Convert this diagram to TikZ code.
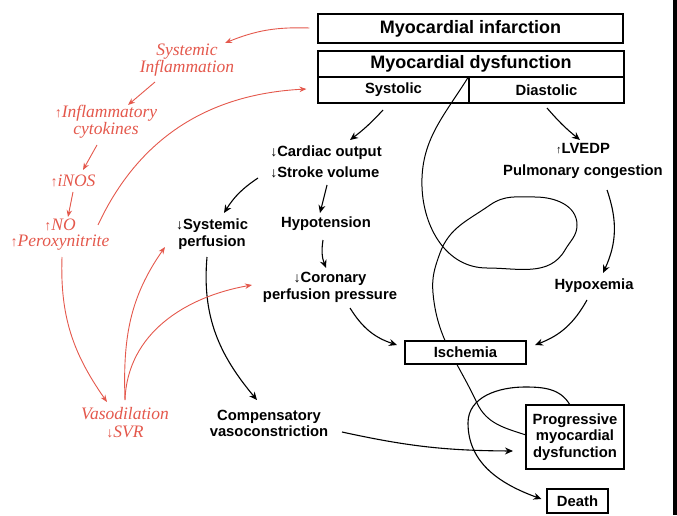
\documentclass[tikz,border=0pt]{standalone}
\usepackage{fontspec}
\setmainfont{Liberation Sans}
\newfontfamily\redf{Liberation Serif}
\usetikzlibrary{arrows.meta,calc,backgrounds}
\definecolor{myred}{RGB}{228,88,76}
\newcommand\dnarr{{\fontsize{14}{10}\selectfont ↓}}
\newcommand\uparr{{\fontsize{11}{10}\selectfont ↑}}
\newcommand\rdarr{{\fontsize{14}{11}\selectfont\upshape ↓}}
\newcommand\ruarr{{\fontsize{14}{11}\selectfont\upshape ↑}}
\tikzset{
  box/.style={draw, line width=1.1pt, inner sep=0pt, align=center,
    font=\fontsize{14.8}{16.5}\selectfont\bfseries},
  txt/.style={align=center, inner sep=1pt, font=\fontsize{14.8}{17}\selectfont\bfseries},
  rtxt/.style={text=myred, align=center, inner sep=1pt},
  arr/.style={-{Stealth[length=8pt,width=7pt]}, line width=1.1pt},
  rarr/.style={-{Stealth[length=7pt,width=5.5pt]}, line width=0.9pt, draw=myred},
  loopline/.style={line width=1pt},
}
\begin{document}
\begin{tikzpicture}[x=1pt,y=1pt]
\useasboundingbox (0,0) rectangle (677,515);
% boxes
\node[box, minimum width=305pt, minimum height=29pt, font=\fontsize{18}{20}\selectfont\bfseries] (mi) at (470.5,486.5) {Myocardial infarction};
\node[box, minimum width=306pt, minimum height=26pt, font=\fontsize{18}{20}\selectfont\bfseries] (md) at (471,451) {Myocardial dysfunction};
\node[box, minimum width=151pt, minimum height=26pt] (sys) at (393.5,425) {Systolic};
\node[box, minimum width=155pt, minimum height=26pt] (dia) at (546.5,425) {Diastolic};
% black text
\node[txt, align=left, font=\fontsize{14.8}{21}\selectfont\bfseries] (co) at (326,353) {\dnarr Cardiac output\\\dnarr Stroke volume};
\node[txt] (hyp) at (326,291) {Hypotension};
\node[txt] (sp) at (212,281) {\dnarr Systemic\\perfusion};
\node[txt] (cpp) at (330,228) {\dnarr Coronary\\perfusion pressure};
\node[txt, font=\fontsize{14.8}{22}\selectfont\bfseries] (lv) at (583,354) {\uparr LVEDP\\Pulmonary congestion};
\node[txt] (hx) at (594,229) {Hypoxemia};
\node[box, fill=white, minimum width=121pt, minimum height=23pt] (isc) at (465.5,162.5) {Ischemia};
\node[box, minimum width=98pt, minimum height=64pt] (pmd) at (575,78) {Progressive\\myocardial\\dysfunction};
\node[box, minimum width=61pt, minimum height=24pt] (death) at (577.5,14) {Death};
\node[txt, font=\fontsize{14.8}{16}\selectfont\bfseries] (cv) at (269,92) {Compensatory\\vasoconstriction};
% red text
\node[rtxt, font=\redf\itshape\fontsize{17.5}{16}\selectfont] (si) at (187,455) {Systemic\\Inflammation};
\node[rtxt, font=\redf\itshape\fontsize{17.5}{15}\selectfont] (ic) at (106,393) {\ruarr Inflammatory\\cytokines};
\node[rtxt, font=\redf\itshape\fontsize{17.5}{16}\selectfont] (inos) at (73,334) {\ruarr iNOS};
\node[rtxt, font=\redf\itshape\fontsize{17.5}{16}\selectfont] (no) at (60,280) {\ruarr NO\\\ruarr Peroxynitrite};
\node[rtxt, font=\redf\itshape\fontsize{17.5}{18}\selectfont] (vs) at (125,92) {Vasodilation\\\rdarr SVR};
% black arrows
\draw[arr] ($(sys.center)+(-10.5,-20)$) to[bend left=5] ($(co.center)+(24,22)$);
\draw[arr] ($(dia.center)+(0.5,-18)$) to[bend right=5] ($(lv.center)+(-3,21)$);
\draw[arr] ($(co.center)+(1,-23)$) to ($(hyp.center)+(-6,11)$);
\draw[arr] ($(co.center)+(-68,-16)$) to[bend right=12] ($(sp.center)+(12,21)$);
\draw[arr] ($(hyp.center)+(-3,-16)$) to[bend right=15] ($(cpp.center)+(-4,19)$);
\draw[arr] ($(cpp.center)+(20,-21)$) to[bend right=20] ($(isc.center)+(-68.5,7.5)$);
\draw[arr] ($(hx.center)+(-7,-14)$) to[bend left=20] ($(isc.center)+(69.5,7.5)$);
\draw[arr] ($(lv.center)+(24,-29)$) to[bend left=22] ($(hx.center)+(9,13)$);
\draw[arr] ($(sp.center)+(-5,-23)$) to[out=265,in=130] ($(cv.center)+(-12,23)$);
\draw[arr] ($(cv.center)+(73,-9)$) to[bend right=6] ($(pmd.center)+(-62,-14)$);
% loops
\begin{pgfonlayer}{background}
\draw[loopline] ($(md.south)+(-3,0)$) to[out=238,in=92] (422,328) to[out=272,in=180] (487,247)
  to[out=0,in=240] (565,265) to[out=60,in=270] (577,290) to[out=90,in=0] (535,318)
  to[out=180,in=35] (490,310) to[out=215,in=70] (440,262) to[out=250,in=95] (433,222)
  to[out=275,in=115] (477,112) to[out=295,in=162] ($(pmd.center)+(-49,2)$);
\end{pgfonlayer}
\draw[arr] ($(pmd.center)+(-5,32)$) to[out=120,in=0] (525,128) to[out=180,in=90] (468,92) to[out=270,in=160] ($(death.west)+(-5,2)$);
% red arrows
\draw[rarr] ($(mi.west)+(-8,0.5)$) to[bend right=12] ($(si.center)+(38,17)$);
\draw[rarr] ($(si.center)+(-32,-22)$) to ($(ic.center)+(22,17)$);
\draw[rarr] ($(ic.center)+(-9,-23)$) to ($(inos.center)+(10,11)$);
\draw[rarr] ($(inos.center)+(0,-11)$) to ($(no.center)+(8,18)$);
\draw[rarr] ($(no.center)+(38,10)$) to[out=65,in=183] ($(sys.west)+(-11,1)$);
\draw[rarr] ($(no.center)+(2,-22)$) to[out=268,in=125] ($(vs.center)+(-18,21)$);
\draw[rarr] ($(vs.center)+(0,23)$) to[out=92,in=235] ($(sp.center)+(-47,-13)$);
\draw[rarr] ($(vs.center)+(0,23)$) to[out=88,in=190] ($(cpp.center)+(-78,2)$);
% right border bar
\fill (673,0) rectangle (677,515);
\end{tikzpicture}
\end{document}
